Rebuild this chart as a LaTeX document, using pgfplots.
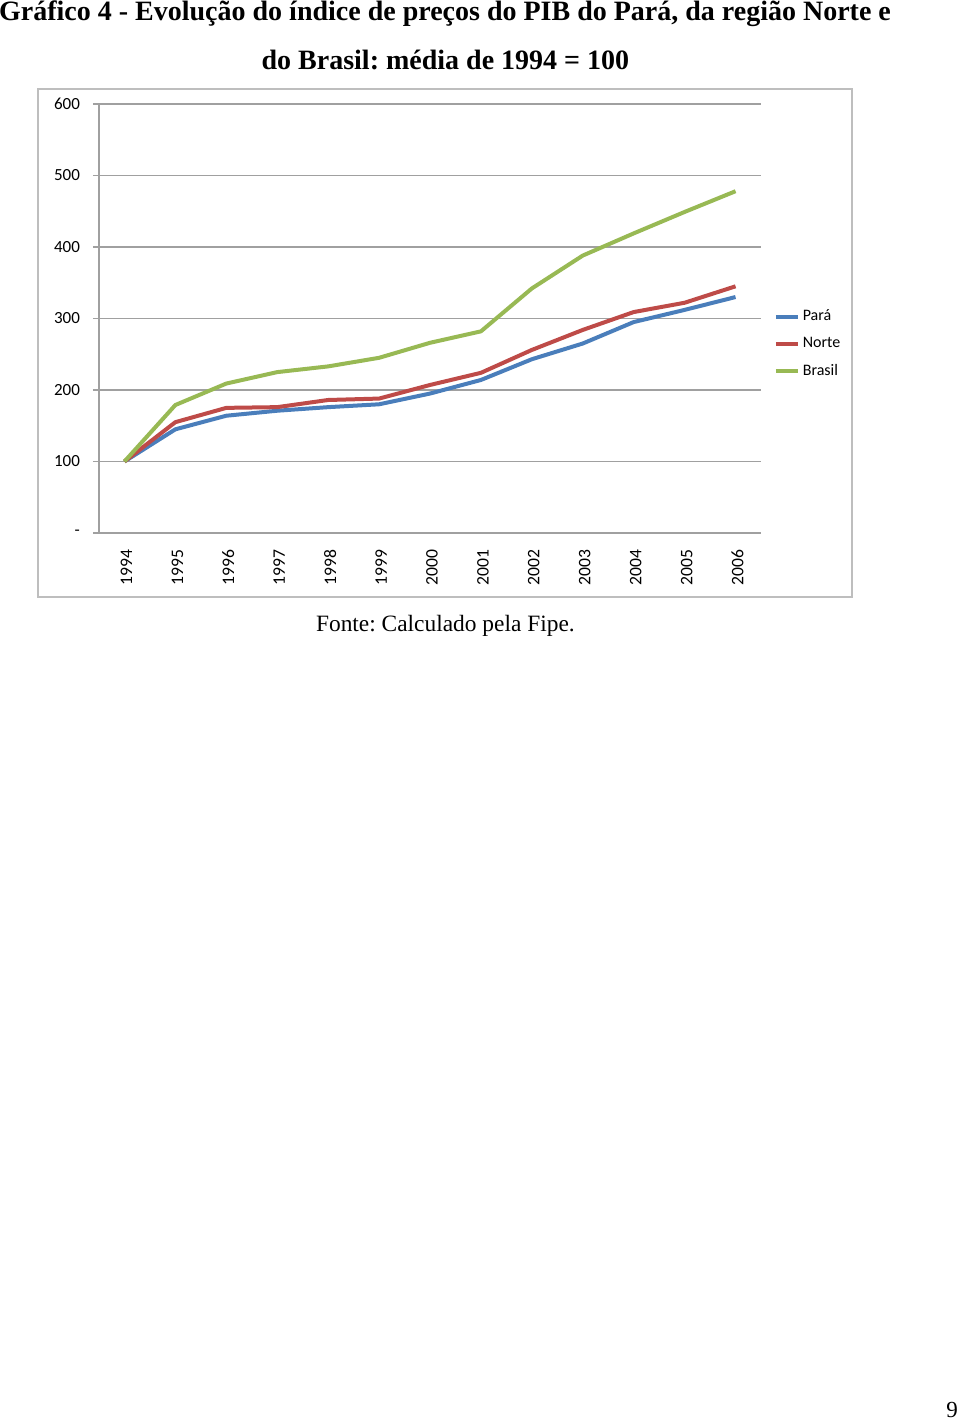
\documentclass[border=0pt]{standalone}
\usepackage{pgfplots}
\pgfplotsset{compat=1.18}
\usepackage{fontspec}
\setmainfont{Liberation Serif}
\newfontfamily\calibri{Carlito}
\definecolor{cpara}{RGB}{74,126,187}
\definecolor{cnorte}{RGB}{190,75,72}
\definecolor{cbrasil}{RGB}{152,185,84}
\definecolor{cgrid}{RGB}{160,160,160}
\definecolor{cframe}{RGB}{190,190,190}
\frenchspacing
\begin{document}
\begin{tikzpicture}
\path[use as bounding box] (0pt,0pt) rectangle (480pt,712pt);
% outer chart frame
\draw[cframe, line width=0.6pt] (19pt,413.5pt) rectangle (426pt,667.5pt);
% title
\node[font=\fontsize{14}{16}\selectfont\bfseries, anchor=center] at (222.5pt,705pt) {Gráfico 4 - Evolução do índice de preços do PIB do Pará, da região Norte e};
\node[font=\fontsize{14}{16}\selectfont\bfseries, anchor=center] at (222.7pt,682pt) {do Brasil: média de 1994 = 100};
% source
\node[font=\fontsize{11.7}{14}\selectfont, anchor=center] at (222.7pt,399pt) {Fonte: Calculado pela Fipe.};
% page number
\node[font=\fontsize{11.5}{13}\selectfont, anchor=center] at (476pt,7pt) {9};
\begin{axis}[
  at={(49.5pt,445.5pt)}, anchor=south west,
  scale only axis, width=331pt, height=214.5pt,
  xmin=-0.5, xmax=12.5, ymin=0, ymax=600,
  axis x line*=bottom, axis y line*=left,
  axis line style={cgrid, line width=0.6pt, -},
  xtick={0,...,12},
  xticklabels={1994,1995,1996,1997,1998,1999,2000,2001,2002,2003,2004,2005,2006},
  major x tick style={draw=none},
  extra x ticks={-0.5,0.5,...,12.5},
  extra x tick labels={},
  extra x tick style={grid=none, major tick length=3pt, tick align=outside, tick style={cgrid, line width=0.6pt}},
  xticklabel style={font=\calibri\fontsize{8.8}{10}\selectfont, rotate=90, anchor=east, xshift=-5pt, yshift=-1pt},
  ytick={0,100,...,600},
  yticklabels={-,100,200,300,400,500,600},
  yticklabel style={font=\calibri\fontsize{8.5}{10}\selectfont, xshift=-3pt},
  ymajorgrids, major grid style={cgrid, line width=0.6pt},
  major y tick style={cgrid, line width=0.6pt},
  ytick align=outside, major tick length=3pt,
  legend style={at={(1,0.44)}, anchor=west, xshift=4.2pt, draw=none, fill=none,
    font=\calibri\fontsize{8}{10}\selectfont, row sep=2.8pt, inner sep=2pt,
    nodes={inner xsep=1.5pt}},
  legend cell align=left,
  legend image code/.code={\draw[#1, line width=2pt] (0pt,0pt) -- (11pt,0pt);},
  every axis plot/.append style={line width=2pt, line join=round},
]
\addplot[cpara] coordinates {(0,100) (1,145) (2,164) (3,171) (4,176) (5,180) (6,195) (7,214) (8,243) (9,265) (10,295) (11,312) (12,330)};
\addlegendentry{Pará}
\addplot[cnorte] coordinates {(0,100) (1,155) (2,175) (3,176) (4,186) (5,188) (6,207) (7,224) (8,256) (9,284) (10,309) (11,322) (12,345)};
\addlegendentry{Norte}
\addplot[cbrasil] coordinates {(0,100) (1,179) (2,209) (3,225) (4,233) (5,245) (6,266) (7,282) (8,342) (9,388) (10,419) (11,449) (12,478)};
\addlegendentry{Brasil}
\end{axis}
\end{tikzpicture}
\end{document}
